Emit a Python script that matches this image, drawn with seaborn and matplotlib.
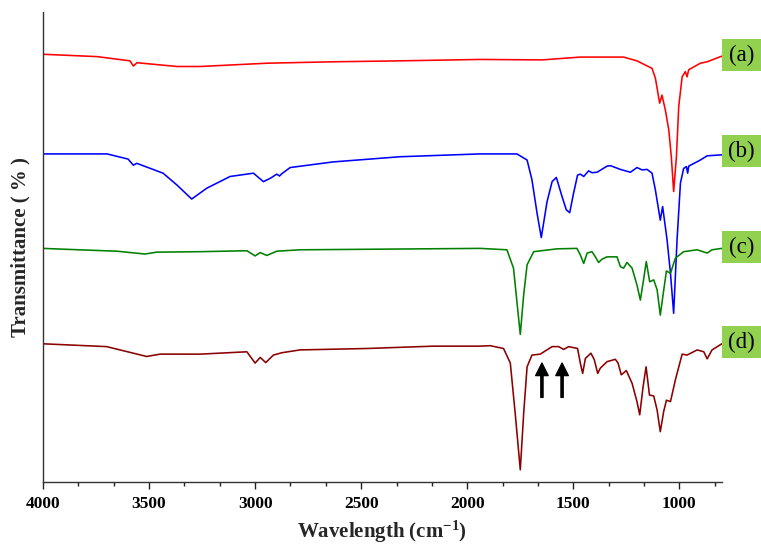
import numpy as np
import pandas as pd
import matplotlib.pyplot as plt
from matplotlib.patches import Rectangle
from matplotlib.ticker import MultipleLocator, AutoMinorLocator
import seaborn as sns

wn_a = [4000, 3745, 3590, 3574, 3557, 3368, 3259, 2943, 2632, 2316, 1939, 1648, 1467,
        1263, 1200, 1129, 1113, 1093, 1082, 1066, 1050, 1038, 1027, 1014, 1003, 987,
        972, 964, 956, 901, 869, 800]
tr_a = [91.0, 90.5, 89.6, 88.5, 89.2, 88.4, 88.4, 89.1, 89.4, 89.6, 89.9, 89.8, 90.4,
        90.4, 89.6, 88.0, 85.9, 80.6, 82.3, 79.1, 74.9, 69.2, 61.8, 69.2, 79.9, 86.2,
        87.3, 86.2, 87.7, 89.1, 89.4, 90.6]

wn_b = [4000, 3698, 3599, 3574, 3558, 3434, 3369, 3299, 3228, 3118, 3008, 2961, 2929,
        2898, 2885, 2874, 2835, 2632, 2316, 1939, 1766, 1718, 1695, 1671, 1651, 1624,
        1600, 1580, 1553, 1533, 1517, 1499, 1480, 1467, 1451, 1428, 1412, 1388, 1341,
        1325, 1278, 1231, 1200, 1176, 1152, 1129, 1113, 1090, 1079, 1058, 1042, 1027,
        1011, 995, 980, 967, 961, 956, 901, 869, 800]
tr_b = [69.8, 69.8, 68.7, 67.4, 67.8, 65.7, 63.2, 60.2, 62.5, 65.0, 65.7, 63.9, 64.6,
        65.5, 65.1, 65.6, 66.9, 68.1, 69.2, 69.8, 69.8, 68.5, 64.3, 57.2, 52.0, 59.6,
        63.9, 64.8, 60.7, 57.9, 57.3, 61.4, 65.3, 65.5, 65.0, 66.2, 65.8, 65.9, 67.2,
        67.3, 66.5, 65.9, 66.9, 66.4, 66.5, 65.7, 62.1, 55.7, 58.6, 51.5, 44.4, 35.9,
        51.5, 63.6, 66.7, 67.1, 65.7, 67.2, 68.5, 69.4, 69.6]

wn_c = [4000, 3888, 3652, 3519, 3464, 3259, 3039, 3000, 2976, 2945, 2898, 2788, 1939,
        1813, 1782, 1766, 1750, 1734, 1718, 1687, 1577, 1483, 1467, 1451, 1435, 1412,
        1396, 1381, 1365, 1341, 1294, 1278, 1263, 1247, 1223, 1200, 1184, 1168, 1156,
        1140, 1121, 1105, 1090, 1077, 1061, 1042, 1019, 980, 916, 869, 846, 800]
tr_c = [49.7, 49.5, 49.1, 48.5, 48.9, 49.0, 49.2, 48.1, 48.8, 48.2, 49.1, 49.4, 49.7,
        49.4, 45.5, 38.4, 31.4, 39.8, 46.2, 49.0, 49.6, 49.7, 48.3, 46.5, 48.7, 49.0,
        47.9, 46.7, 47.4, 47.9, 47.9, 45.8, 45.5, 46.7, 45.5, 41.9, 38.7, 43.3, 46.9,
        42.6, 43.0, 40.9, 35.5, 39.8, 44.9, 44.4, 47.6, 49.0, 49.4, 48.7, 49.4, 49.7]

wn_d = [4000, 3700, 3637, 3511, 3448, 3259, 3039, 3000, 2976, 2950, 2914, 2874, 2788,
        2473, 2159, 1939, 1892, 1829, 1797, 1774, 1750, 1734, 1718, 1695, 1656, 1600,
        1569, 1546, 1522, 1480, 1467, 1456, 1443, 1417, 1401, 1385, 1373, 1341, 1302,
        1289, 1274, 1250, 1223, 1200, 1187, 1171, 1157, 1141, 1121, 1105, 1090, 1074,
        1061, 1042, 1019, 987, 964, 916, 885, 869, 846, 800]
tr_d = [29.4, 28.8, 28.1, 26.7, 27.2, 27.2, 27.7, 25.3, 26.5, 25.4, 27.0, 27.5, 28.1,
        28.4, 28.9, 28.9, 29.0, 28.4, 25.3, 14.6, 2.6, 14.6, 24.5, 27.0, 27.2, 28.8,
        28.8, 28.2, 28.8, 28.4, 25.3, 23.1, 26.3, 27.4, 26.0, 23.1, 24.2, 25.6, 26.1,
        25.3, 22.8, 23.7, 21.0, 17.1, 14.3, 20.3, 24.5, 18.5, 18.3, 15.3, 10.7, 15.0,
        17.4, 17.1, 21.7, 27.2, 27.0, 28.1, 27.7, 26.2, 28.1, 29.4]

etiquetas = ['(a)', '(b)', '(c)', '(d)']
colores = {'(a)': '#FF0000', '(b)': '#0000FF', '(c)': '#008000', '(d)': '#8B0000'}
flechas_wn = [1648, 1553]

df = pd.concat([
    pd.DataFrame({'wn': w, 'tr': t, 'muestra': e})
    for w, t, e in zip([wn_a, wn_b, wn_c, wn_d], [tr_a, tr_b, tr_c, tr_d], etiquetas)
])

# --- estilo ---
sns.set_style('white')
plt.rcParams['font.family'] = ['Liberation Serif', 'DejaVu Serif']
plt.rcParams['mathtext.fontset'] = 'custom'
plt.rcParams['mathtext.rm'] = 'Liberation Serif:bold'
plt.rcParams['mathtext.it'] = 'Liberation Serif:bold'

fig = plt.figure(figsize=(7.61, 5.44), dpi=100)
ax = fig.add_axes([0.0565, 0.114, 0.892, 0.864])

sns.lineplot(data=df, x='wn', y='tr', hue='muestra', palette=colores,
             estimator=None, linewidth=1.15, legend=False, ax=ax)

# flechas negras en (d)
for w in flechas_wn:
    ax.annotate('', xy=(w, 25.3), xytext=(w, 18.0),
                arrowprops=dict(facecolor='black', edgecolor='black',
                                width=1.6, headwidth=9, headlength=9, shrink=0))

ax.set_xlim(4000, 800)
ax.set_ylim(0, 100)
ax.xaxis.set_major_locator(MultipleLocator(500))
ax.xaxis.set_minor_locator(AutoMinorLocator(3))
ax.set_yticks([])
ax.tick_params(axis='x', which='major', direction='out', length=5, width=1,
               labelsize=12.5, pad=5, colors='#222222', labelcolor='black')
ax.tick_params(axis='x', which='minor', direction='out', length=3, width=1,
               colors='#222222')
ax.tick_params(axis='x', which='both', bottom=True)
for lab in ax.get_xticklabels():
    lab.set_fontweight('bold')

sns.despine(ax=ax)
for s in ['left', 'bottom']:
    ax.spines[s].set_color('#333333')
    ax.spines[s].set_linewidth(1.0)

ax.set_xlabel('Wavelength (cm$^{-1}$)', fontsize=15, fontweight='bold', labelpad=5)
ax.set_ylabel('Transmittance ( % )', fontsize=15, fontweight='bold', labelpad=9)

# --- cajas verdes con las etiquetas ---
cajas_y = [0.8695, 0.693, 0.5165, 0.342]
for e, y0 in zip(etiquetas, cajas_y):
    fig.patches.append(Rectangle((0.9488, y0), 0.0512, 0.0588, transform=fig.transFigure,
                                 facecolor='#92D050', edgecolor='none'))
    fig.text(0.9744, y0 + 0.0294, e, ha='center', va='center', fontsize=16.5,
             color='black')

plt.savefig('out.png', dpi=100, facecolor='white')
